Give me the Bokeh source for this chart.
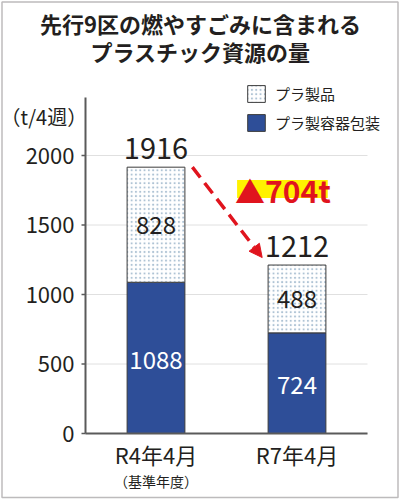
from bokeh.plotting import figure
from bokeh.models import (Range1d, Label, BoxAnnotation, Arrow, NormalHead,
                          Legend, LegendItem, ColumnDataSource)
from bokeh.core.properties import value
from bokeh.embed import file_html
from bokeh.resources import INLINE

# ---- data ----
categories = ["R4年4月", "R7年4月"]
containers = [1088, 724]      # プラ製容器包装
products = [828, 488]         # プラ製品
y_ticks = [0, 500, 1000, 1500, 2000]
series_names = ["プラ製品", "プラ製容器包装"]
title_lines = ["先行9区の燃やすごみに含まれる", "プラスチック資源の量"]
unit_label = "（t/4週）"
base_note = "（基準年度）"

totals = [c + q for c, q in zip(containers, products)]
diff = totals[0] - totals[1]
xs = [i + 0.5 for i in range(len(categories))]

# ---- style ----
FONT = "Noto Sans CJK JP"
TXT = "#231f20"
BLUE = "#2e4e98"
DOT = "#aec3d4"
OUT = "#3c3c3c"
RED = "#e0141e"
YELLOW = "#fff200"
AXIS = "#5a5a5a"
GRID = "#e0e0e0"
W, H = 400, 500
AX_PX, X_SCALE = 85, 141.0          # pixel of x=0, pixels per category
Y0_PX, Y_SCALE = 433, 0.139         # pixel of y=0, pixels per unit
Y_AXIS_TOP = 2417
TICK = 4 / X_SCALE

src = ColumnDataSource(dict(
    x=xs, cat=categories,
    containers=containers, products=products, total=totals,
    total_txt=[str(t) for t in totals],
    mid_c=[c / 2 for c in containers],
    mid_p=[c + q / 2 for c, q in zip(containers, products)],
    c_txt=[str(c) for c in containers],
    p_txt=[str(q) for q in products],
))
tick_src = ColumnDataSource(dict(y=y_ticks, label=[str(t) for t in y_ticks]))

p = figure(x_range=Range1d(-AX_PX / X_SCALE, (W - AX_PX) / X_SCALE),
           y_range=Range1d(-(H - Y0_PX) / Y_SCALE, Y0_PX / Y_SCALE),
           width=W, height=H, output_backend="svg", toolbar_location=None,
           x_axis_location=None, y_axis_location=None, title=None, min_border=0)
p.outline_line_color = None
p.background_fill_color = "white"
p.border_fill_color = "white"
p.xgrid.visible = False
p.ygrid.visible = False

n = len(categories)
# grid lines and axes (from the data scales)
p.segment(x0=0, x1=n, y0="y", y1="y", source=tick_src, line_color=GRID, line_width=1)
p.segment(x0=-TICK, x1=0, y0="y", y1="y", source=tick_src, line_color=AXIS, line_width=1.5)
p.segment(x0=[0], x1=[0], y0=[0], y1=[Y_AXIS_TOP], line_color=AXIS, line_width=2)
p.text(x=-TICK, y="y", text="label", source=tick_src, x_offset=-7,
       text_align="right", text_baseline="middle", text_font=value(FONT),
       text_font_size="22px", text_color=TXT)

BW = 0.41
r_cont = p.vbar(x="x", bottom=0, top="containers", width=BW, source=src,
                fill_color=BLUE, line_color=OUT, line_width=1)
r_prod = p.vbar(x="x", bottom="containers", top="total", width=BW, source=src,
                fill_color="white", hatch_pattern="dot", hatch_color=DOT,
                hatch_scale=4.3, hatch_weight=1.1, line_color=OUT, line_width=1)
p.segment(x0=[0], x1=[n], y0=[0], y1=[0], line_color=AXIS, line_width=2)

# category labels
p.text(x="x", y=0, text="cat", source=src, y_offset=20, text_align="center",
       text_baseline="middle", text_font=value(FONT), text_font_size="22px",
       text_color=TXT)
p.text(x=[xs[0]], y=[0], text=[base_note], y_offset=47, text_align="center",
       text_baseline="middle", text_font=value(FONT), text_font_size="14px",
       text_color=TXT)

# value labels
p.text(x="x", y="total", text="total_txt", source=src, text_align="center",
       text_baseline="alphabetic", y_offset=-19, text_font=value(FONT),
       text_font_size="29px", text_color=TXT)
p.text(x="x", y="mid_p", text="p_txt", source=src, text_align="center",
       text_baseline="middle", text_font=value(FONT), text_font_size="24px",
       text_color=TXT)
p.text(x="x", y="mid_c", text="c_txt", source=src, text_align="center",
       text_baseline="middle", y_offset=2, text_font=value(FONT), text_font_size="24px",
       text_color="white")

# change arrow + highlight
p.add_layout(Arrow(x_start=0.758, y_start=totals[0], x_end=1.253, y_end=totals[1] + 54,
                   line_color=RED, line_width=3.5, line_dash="13 7",
                   end=NormalHead(size=13, fill_color=RED, line_color=RED)))
p.add_layout(BoxAnnotation(left=1.075, right=1.718, bottom=1694, top=1824,
                           fill_color=YELLOW, fill_alpha=1, line_color=None))
p.add_layout(Label(x=1.40, y=1755, text=f"▲{diff}t", text_align="center",
                   text_baseline="middle", text_font=FONT, text_font_size="30px",
                   text_font_style="bold", text_color=RED))

# titles and unit label (screen units, origin bottom-left)
p.add_layout(Label(x=200, y=H - 22.5, x_units="screen", y_units="screen", text=title_lines[0],
                   text_align="center", text_baseline="middle", text_font=FONT,
                   text_font_size="22px", text_font_style="bold", text_color=TXT))
p.add_layout(Label(x=200, y=H - 50, x_units="screen", y_units="screen", text=title_lines[1],
                   text_align="center", text_baseline="middle", text_font=FONT,
                   text_font_size="22px", text_font_style="bold", text_color=TXT))
p.add_layout(Label(x=0, y=H - 116, x_units="screen", y_units="screen", text=unit_label,
                   text_align="left", text_baseline="middle", text_font=FONT,
                   text_font_size="20px", text_color=TXT))

legend = Legend(items=[LegendItem(label=series_names[0], renderers=[r_prod]),
                       LegendItem(label=series_names[1], renderers=[r_cont])],
                location=(245, H - 133), orientation="vertical",
                glyph_width=22, glyph_height=21, spacing=8, label_standoff=8,
                padding=0, margin=0, border_line_color=None, background_fill_alpha=0,
                label_text_font=FONT, label_text_font_size="15px", label_text_color=TXT)
p.add_layout(legend)

# outer frame
p.add_layout(BoxAnnotation(left=1.5, right=397.5, bottom=H - 497, top=H - 1.5,
                           left_units="screen", right_units="screen",
                           bottom_units="screen", top_units="screen",
                           fill_alpha=0, line_color=TXT, line_width=1.5))

open("out.html", "w").write(file_html(p, INLINE))
